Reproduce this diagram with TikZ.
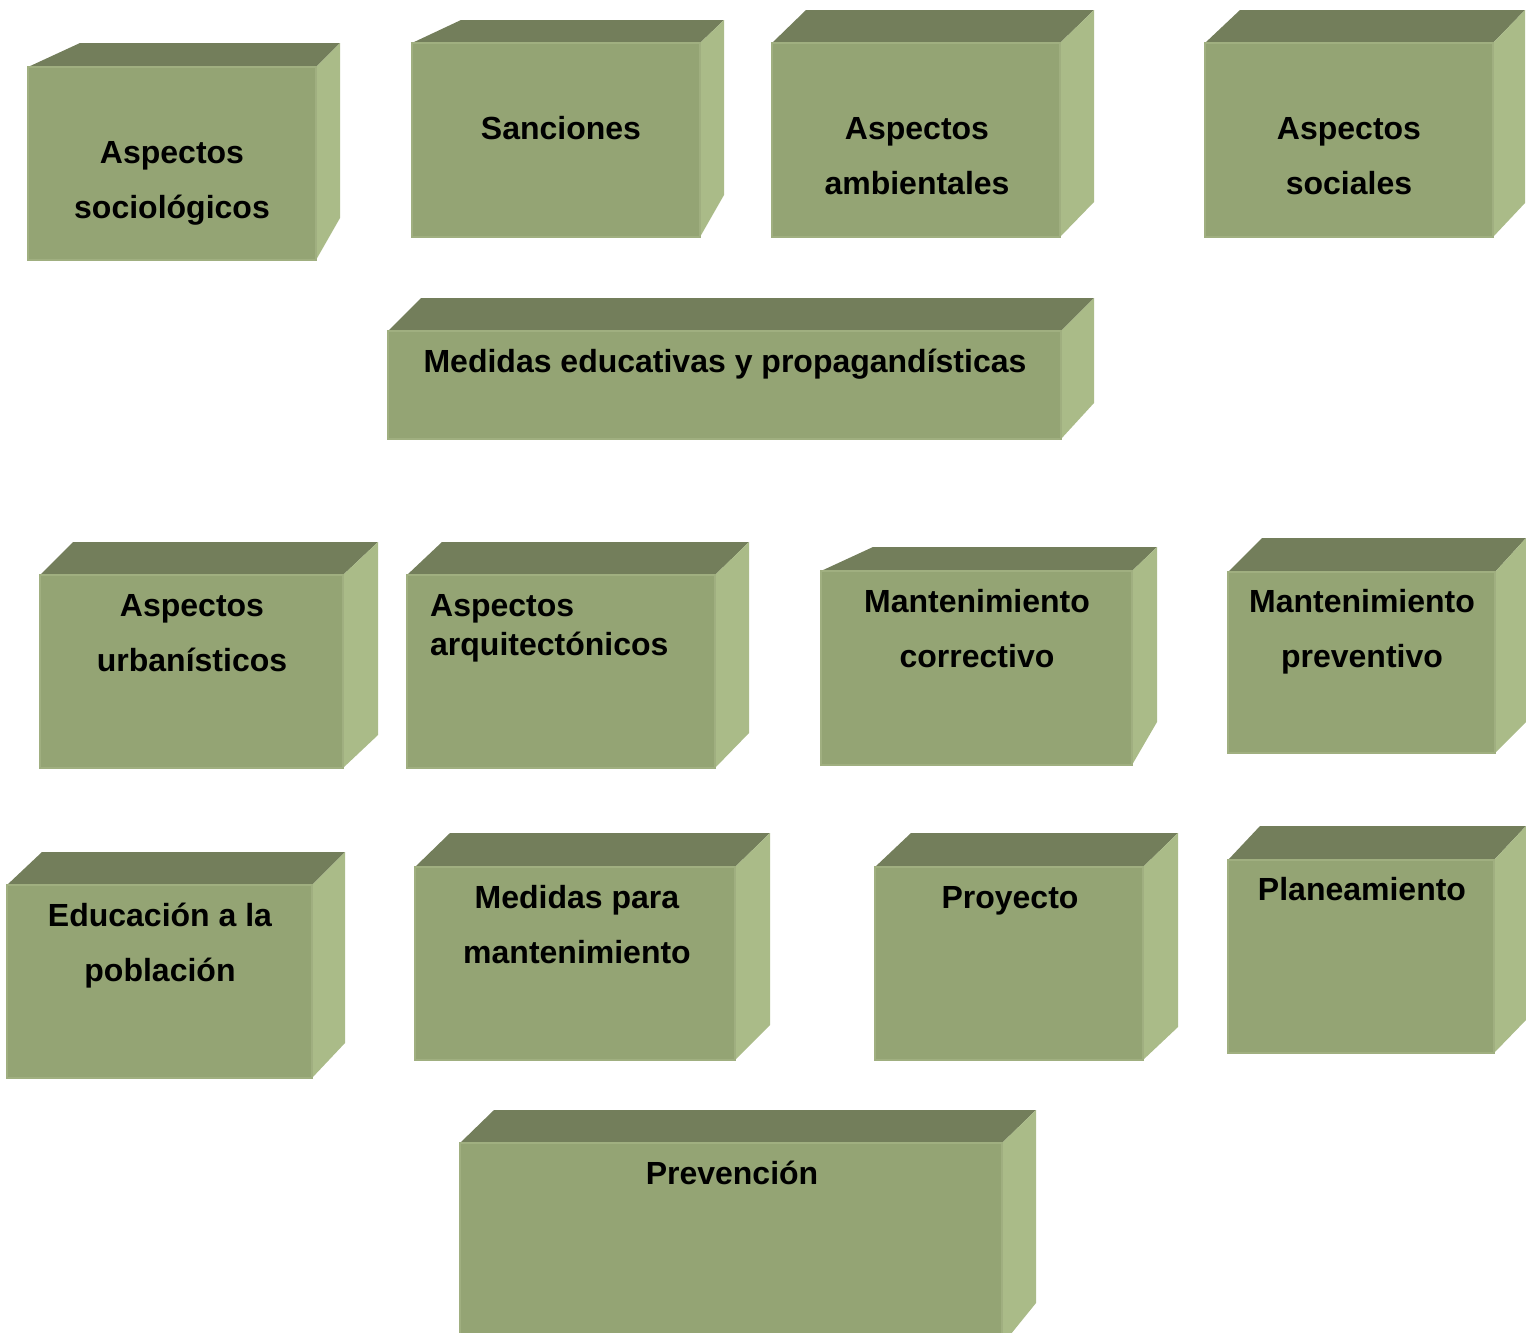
\documentclass[tikz,border=0pt]{standalone}
\usepackage{fontspec}
\setmainfont{Liberation Sans}
\usepackage{tikz}
\usetikzlibrary{calc}
\definecolor{topgreen}{RGB}{115,126,91}
\definecolor{frontgreen}{RGB}{148,164,116}
\definecolor{sidegreen}{RGB}{170,187,136}
\definecolor{edgegreen}{RGB}{160,175,128}
\tikzstyle{topface}=[fill=topgreen]
\tikzstyle{sideface}=[fill=sidegreen]
\tikzstyle{frontface}=[rectangle,fill=frontgreen,draw=edgegreen,line width=1.2pt,inner sep=0pt,outer sep=0pt]
\tikzstyle{boxtext}=[font=\fontsize{32}{55}\selectfont\bfseries,align=center,inner sep=0pt]
\tikzstyle{boxtextleft}=[font=\fontsize{32}{39}\selectfont\bfseries,align=left,inner sep=0pt,anchor=west]

\begin{document}
\begin{tikzpicture}[x=1pt,y=-1pt]
   \useasboundingbox (0,0) rectangle (1526,1333);

    % front left/top/right/bottom, back left/top/right, side bottom
    \foreach \fl/\ft/\fr/\fb/\kl/\kt/\kr/\sy/\name in {
        28/67/316/260/80/43/340/218/socio,
        412/43/700/237/461/20/724/195/sanc,
        772/43/1060/237/806/10/1094/202/amb,
        1205/43/1493/237/1240/10/1525/203/soc,
        388/331/1061/439/421/298/1094/403/edu,
        40/575/343/768/73/542/378/735/urb,
        407/575/715/768/442/542/749/733/arq,
        821/571/1132/765/873/547/1157/722/corr,
        1228/572/1495/753/1262/538/1526/722/prev,
        7/885/312/1078/42/852/345/1043/pob,
        415/867/735/1060/450/833/770/1025/mant,
        875/867/1143/1060/911/833/1178/1027/proy,
        1228/860/1494/1053/1260/826/1526/1020/plan,
        460/1143/1002/1345/494/1110/1036/1303/preven}
    {
        \path[topface] (\fl,\ft) -- (\kl,\kt) -- (\kr,\kt) -- (\fr,\ft) -- cycle;
        \path[sideface] (\fr,\ft) -- (\kr,\kt) -- (\kr,\sy) -- (\fr,\fb) -- cycle;
        \node[frontface,minimum width=\fr-\fl,minimum height=\fb-\ft] (\name) at ({(\fl+\fr)/2},{(\ft+\fb)/2}) {};
    }

    % Texts on the front faces
    \foreach \pos/\name/\txt in {
        {(172,183)/socioTxt/{Aspectos\\sociológicos}},
        {(561,128)/sancTxt/{Sanciones}},
        {(917,156)/ambTxt/{Aspectos\\ambientales}},
        {(1349,156)/socTxt/{Aspectos\\sociales}},
        {(725,364)/eduTxt/{Medidas educativas y propagandísticas}},
        {(192,633)/urbTxt/{Aspectos\\urbanísticos}},
        {(977,629)/corrTxt/{Mantenimiento\\correctivo}},
        {(1362,632)/prevTxt/{Mantenimiento\\preventivo}},
        {(160,946)/pobTxt/{Educación a la\\población}},
        {(577,925)/mantTxt/{Medidas para\\mantenimiento}},
        {(1010,901)/proyTxt/{Proyecto}},
        {(1362,889)/planTxt/{Planeamiento}},
        {(732,1173)/prevenTxt/{Prevención}}}
        \node[boxtext] (\name) at \pos {\txt};

    \node[boxtextleft] (arqTxt) at (430,628) {Aspectos\\arquitectónicos};

\end{tikzpicture}
\end{document}
